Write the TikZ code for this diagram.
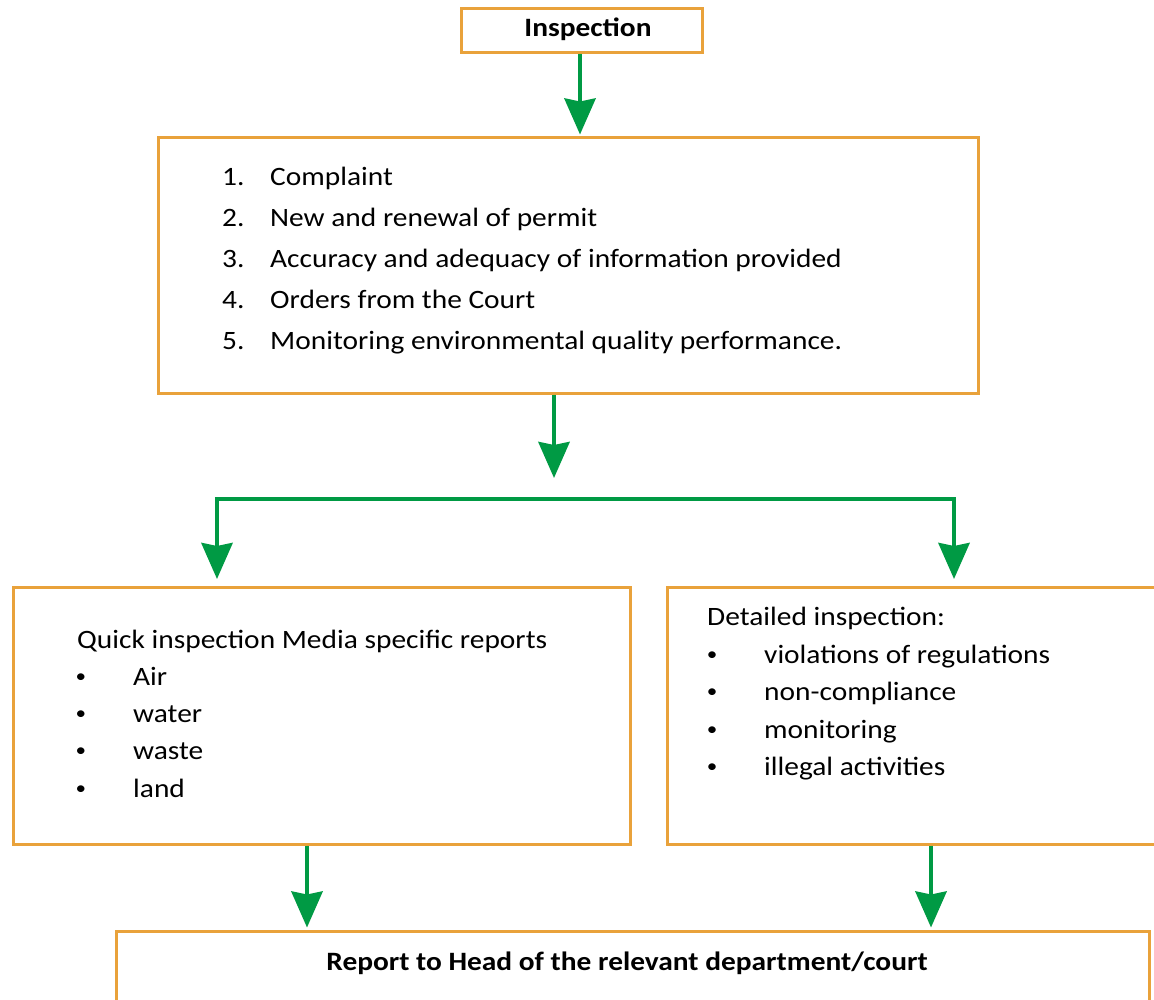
\documentclass[tikz,border=0pt]{standalone}
\usepackage{fontspec}
\setmainfont{Carlito}[FakeStretch=1.11]
\usetikzlibrary{arrows.meta}
\definecolor{boxorange}{HTML}{E9A23B}
\definecolor{agreen}{HTML}{009A44}
\tikzset{
  box/.style={draw=boxorange, line width=3pt, fill=white, inner sep=0pt},
  garrow/.style={draw=agreen, line width=4.5pt, -{Stealth[length=36pt,width=31pt,inset=3pt]}, fill=agreen},
  gline/.style={draw=agreen, line width=4.5pt},
  txt/.style={anchor=base west, inner sep=0pt, font=\fontsize{26.5}{32}\selectfont},
  bul/.style={anchor=center, inner sep=0pt, font=\fontsize{19}{20}\selectfont},
  btxt/.style={anchor=base, inner sep=0pt, font=\fontsize{26.5}{32}\selectfont\bfseries},
}
\begin{document}
\begin{tikzpicture}[x=1pt,y=-1pt]
\clip (0,0) rectangle (1154,999);
\fill[white] (0,0) rectangle (1154,999);
% boxes
\node[box, minimum width=241pt, minimum height=44pt] (insp) at (581.5,30) {};
\node[box, minimum width=820pt, minimum height=256pt] (reasons) at (568,265) {};
\node[box, minimum width=617pt, minimum height=257pt] (quick) at (321.5,715.5) {};
\node[box, minimum width=533pt, minimum height=257pt] (detail) at (933.5,715.5) {};
\node[box, minimum width=1033pt, minimum height=129pt] (report) at (632.5,995.5) {};
% texts
\node[btxt] (tinsp) at (588,36) {Inspection};
\node[txt] (n1) at (222,185) {1.};
\node[txt] (t1) at (270,185) {Complaint};
\node[txt] (n2) at (222,226) {2.};
\node[txt] (t2) at (270,226) {New and renewal of permit};
\node[txt] (n3) at (222,267) {3.};
\node[txt] (t3) at (270,267) {Accuracy and adequacy of information provided};
\node[txt] (n4) at (222,308) {4.};
\node[txt] (t4) at (270,308) {Orders from the Court};
\node[txt] (n5) at (222,349) {5.};
\node[txt] (t5) at (270,349) {Monitoring environmental quality performance.};
\node[txt] (qh) at (77,648) {Quick inspection Media specific reports};
\node[bul] (qb1) at (81,678) {•};
\node[txt] (q1) at (133,685) {Air};
\node[bul] (qb2) at (81,715) {•};
\node[txt] (q2) at (133,722) {water};
\node[bul] (qb3) at (81,752) {•};
\node[txt] (q3) at (133,759) {waste};
\node[bul] (qb4) at (81,790) {•};
\node[txt] (q4) at (133,797) {land};
\node[txt] (dh) at (707,625) {Detailed inspection:};
\node[bul] (db1) at (712,656) {•};
\node[txt] (d1) at (764,663) {violations of regulations};
\node[bul] (db2) at (712,693) {•};
\node[txt] (d2) at (764,700) {non-compliance};
\node[bul] (db3) at (712,731) {•};
\node[txt] (d3) at (764,738) {monitoring};
\node[bul] (db4) at (712,768) {•};
\node[txt] (d4) at (764,775) {illegal activities};
\node[btxt] (trep) at (627,970) {Report to Head of the relevant department/court};
% connectors
\coordinate (a2end) at (554,478);
\coordinate (jL) at (217,499);
\coordinate (jR) at (954,499);
\coordinate (aLend) at (217,579);
\coordinate (aRend) at (954,579);
\coordinate (q0) at (307,844);
\coordinate (d0) at (931,844);
\draw[garrow, shorten >=1pt] (insp.south -| 580,0) -- (reasons.north -| 580,0);
\draw[garrow] (reasons.south -| a2end) -- (a2end);
\draw[gline] ([xshift=-2.25pt]jL) -- ([xshift=2.25pt]jR);
\draw[garrow] (jL) -- (aLend);
\draw[garrow] (jR) -- (aRend);
\draw[garrow, shorten >=2pt] (quick.south -| q0) -- (report.north -| q0);
\draw[garrow, shorten >=2pt] (detail.south -| d0) -- (report.north -| d0);
\end{tikzpicture}
\end{document}
